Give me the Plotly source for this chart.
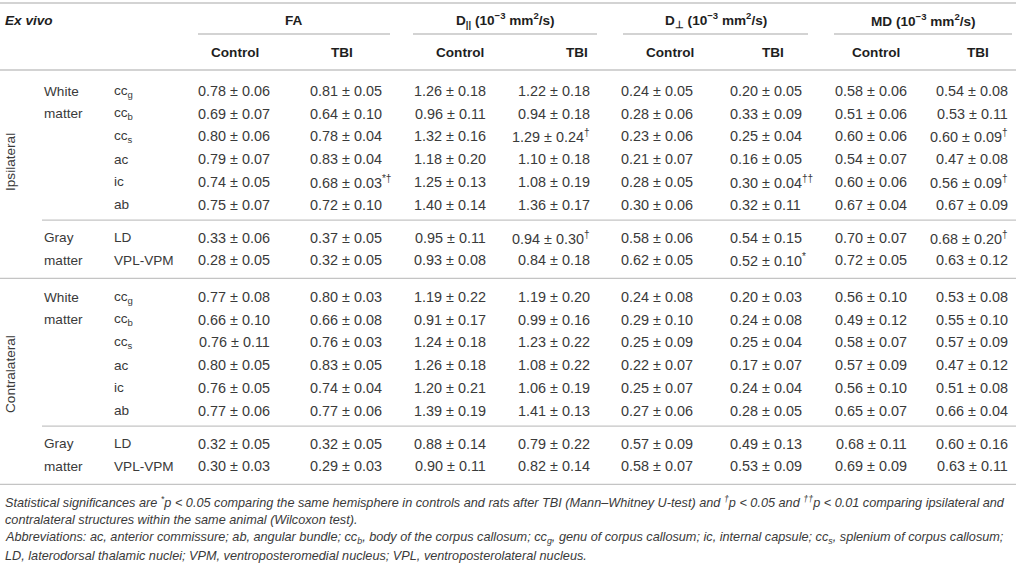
import plotly.graph_objects as go

# ---------------- data ----------------
hemispheres = ["Ipsilateral", "Contralateral"]
tissue_words = [["White", "matter"], ["Gray", "matter"]]
tissue_rows = [6, 2]
structures = ["cc<sub>g</sub>", "cc<sub>b</sub>", "cc<sub>s</sub>", "ac", "ic", "ab", "LD", "VPL-VPM"]

group_headers = ["FA",
                 "D<sub>||</sub> (10<sup>−3</sup> mm<sup>2</sup>/s)",
                 "D<sub>⊥</sub> (10<sup>−3</sup> mm<sup>2</sup>/s)",
                 "MD (10<sup>−3</sup> mm<sup>2</sup>/s)"]
sub_headers = ["Control", "TBI"]

fa_ctrl_mean = [0.78, 0.69, 0.80, 0.79, 0.74, 0.75, 0.33, 0.28, 0.77, 0.66, 0.76, 0.80, 0.76, 0.77, 0.32, 0.30]
fa_ctrl_sd   = [0.06, 0.07, 0.06, 0.07, 0.05, 0.07, 0.06, 0.05, 0.08, 0.10, 0.11, 0.05, 0.05, 0.06, 0.05, 0.03]
fa_tbi_mean  = [0.81, 0.64, 0.78, 0.83, 0.68, 0.72, 0.37, 0.32, 0.80, 0.66, 0.76, 0.83, 0.74, 0.77, 0.32, 0.29]
fa_tbi_sd    = [0.05, 0.10, 0.04, 0.04, 0.03, 0.10, 0.05, 0.05, 0.03, 0.08, 0.03, 0.05, 0.04, 0.06, 0.05, 0.03]
fa_tbi_sig   = ["", "", "", "", "*†", "", "", "", "", "", "", "", "", "", "", ""]

dpar_ctrl_mean = [1.26, 0.96, 1.32, 1.18, 1.25, 1.40, 0.95, 0.93, 1.19, 0.91, 1.24, 1.26, 1.20, 1.39, 0.88, 0.90]
dpar_ctrl_sd   = [0.18, 0.11, 0.16, 0.20, 0.13, 0.14, 0.11, 0.08, 0.22, 0.17, 0.18, 0.18, 0.21, 0.19, 0.14, 0.11]
dpar_tbi_mean  = [1.22, 0.94, 1.29, 1.10, 1.08, 1.36, 0.94, 0.84, 1.19, 0.99, 1.23, 1.08, 1.06, 1.41, 0.79, 0.82]
dpar_tbi_sd    = [0.18, 0.18, 0.24, 0.18, 0.19, 0.17, 0.30, 0.18, 0.20, 0.16, 0.22, 0.22, 0.19, 0.13, 0.22, 0.14]
dpar_tbi_sig   = ["", "", "†", "", "", "", "†", "", "", "", "", "", "", "", "", ""]

dperp_ctrl_mean = [0.24, 0.28, 0.23, 0.21, 0.28, 0.30, 0.58, 0.62, 0.24, 0.29, 0.25, 0.22, 0.25, 0.27, 0.57, 0.58]
dperp_ctrl_sd   = [0.05, 0.06, 0.06, 0.07, 0.05, 0.06, 0.06, 0.05, 0.08, 0.10, 0.09, 0.07, 0.07, 0.06, 0.09, 0.07]
dperp_tbi_mean  = [0.20, 0.33, 0.25, 0.16, 0.30, 0.32, 0.54, 0.52, 0.20, 0.24, 0.25, 0.17, 0.24, 0.28, 0.49, 0.53]
dperp_tbi_sd    = [0.05, 0.09, 0.04, 0.05, 0.04, 0.11, 0.15, 0.10, 0.03, 0.08, 0.04, 0.07, 0.04, 0.05, 0.13, 0.09]
dperp_tbi_sig   = ["", "", "", "", "††", "", "", "*", "", "", "", "", "", "", "", ""]

md_ctrl_mean = [0.58, 0.51, 0.60, 0.54, 0.60, 0.67, 0.70, 0.72, 0.56, 0.49, 0.58, 0.57, 0.56, 0.65, 0.68, 0.69]
md_ctrl_sd   = [0.06, 0.06, 0.06, 0.07, 0.06, 0.04, 0.07, 0.05, 0.10, 0.12, 0.07, 0.09, 0.10, 0.07, 0.11, 0.09]
md_tbi_mean  = [0.54, 0.53, 0.60, 0.47, 0.56, 0.67, 0.68, 0.63, 0.53, 0.55, 0.57, 0.47, 0.51, 0.66, 0.60, 0.63]
md_tbi_sd    = [0.08, 0.11, 0.09, 0.08, 0.09, 0.09, 0.20, 0.12, 0.08, 0.10, 0.09, 0.12, 0.08, 0.04, 0.16, 0.11]
md_tbi_sig   = ["", "", "†", "", "†", "", "†", "", "", "", "", "", "", "", "", ""]

no_sig = [""] * 16

footnotes = [
    "Statistical significances are <sup>*</sup>p < 0.05 comparing the same hemisphere in controls and rats after TBI "
    "(Mann–Whitney U-test) and <sup>†</sup>p < 0.05 and <sup>††</sup>p < 0.01 comparing ipsilateral and",
    "contralateral structures within the same animal (Wilcoxon test).",
    "Abbreviations: ac, anterior commissure; ab, angular bundle; cc<sub>b</sub>, body of the corpus callosum; "
    "cc<sub>g</sub>, genu of corpus callosum; ic, internal capsule; cc<sub>s</sub>, splenium of corpus callosum;",
    "LD, laterodorsal thalamic nuclei; VPM, ventroposteromedial nucleus; VPL, ventroposterolateral nucleus.",
]

columns = [
    (fa_ctrl_mean, fa_ctrl_sd, no_sig), (fa_tbi_mean, fa_tbi_sd, fa_tbi_sig),
    (dpar_ctrl_mean, dpar_ctrl_sd, no_sig), (dpar_tbi_mean, dpar_tbi_sd, dpar_tbi_sig),
    (dperp_ctrl_mean, dperp_ctrl_sd, no_sig), (dperp_tbi_mean, dperp_tbi_sd, dperp_tbi_sig),
    (md_ctrl_mean, md_ctrl_sd, no_sig), (md_tbi_mean, md_tbi_sd, md_tbi_sig),
]

# ---------------- layout / style ----------------
W, H = 1016, 564
FONT = "Liberation Sans, Arial, Helvetica, sans-serif"
TXT = "#3a3a3a"
HDR = "#1e1e1e"
LINE = "#c4c4c4"
FS = 13.6
FS_NUM = 14.4
FS_FOOT = 12.7

col_anchor = [("center", 234), ("left", 308), ("center", 450), ("right", 592),
              ("center", 657), ("left", 728), ("center", 871), ("right", 1010)]
sub_x = [235, 342, 460, 577, 670, 773, 876, 978]
group_span = [(198, 390), (413, 597), (623, 808), (834, 1012)]

ROW_PITCH = 22.7
hemi_first_row = [91, 297]
tissue_gap = 10.5
hemi_label_y = [162, 374]
FOOT_Y0 = 502
FOOT_PITCH = 17.9

annotations = []
shapes = []


def txt(x, y, s, anchor="left", size=FS, color=TXT, angle=0):
    annotations.append(dict(x=x, y=y, xref="x", yref="y", text=s, showarrow=False,
                            xanchor=anchor, yanchor="middle", textangle=angle,
                            font=dict(family=FONT, size=size, color=color)))


def hline(x0, x1, y, width=1.3):
    shapes.append(dict(type="line", xref="x", yref="y", x0=x0, x1=x1, y0=y, y1=y,
                       line=dict(color=LINE, width=width)))


# header
hline(0, W, 3)
txt(3, 20, "<b><i>Ex vivo</i></b>", color=HDR)
for (x0, x1), g in zip(group_span, group_headers):
    txt((x0 + x1) / 2, 20, "<b>" + g + "</b>", anchor="center", color=HDR)
    hline(x0, x1, 34)
for i, x in enumerate(sub_x):
    txt(x, 52, "<b>" + sub_headers[i % 2] + "</b>", anchor="center", color=HDR)
hline(0, W, 70)

# body
r = 0
last_y = 0
for h, hemi in enumerate(hemispheres):
    y = hemi_first_row[h]
    txt(10, hemi_label_y[h], hemi, anchor="center", angle=-90)
    for t, n in enumerate(tissue_rows):
        if t > 0:
            hline(42, W, last_y + (y - last_y) / 2 - 1)
        for k in range(n):
            if k < 2:
                txt(42, y, tissue_words[t][k])
            txt(112, y, structures[r % 8])
            for c, (m, s, sig) in enumerate(columns):
                label = f"{m[r]:.2f} ± {s[r]:.2f}"
                if sig[r]:
                    label += "<sup>" + sig[r] + "</sup>"
                a, x = col_anchor[c]
                txt(x, y, label, anchor=a, size=FS_NUM)
            last_y = y
            y += ROW_PITCH
            r += 1
        y += tissue_gap
    hline(0, W, last_y + 18)

# footnotes
for i, f in enumerate(footnotes):
    txt(3, FOOT_Y0 + i * FOOT_PITCH, "<i>" + f + "</i>", size=FS_FOOT)

fig = go.Figure()
fig.update_layout(
    width=W, height=H,
    margin=dict(l=0, r=0, t=0, b=0),
    paper_bgcolor="white", plot_bgcolor="white",
    xaxis=dict(range=[0, W], visible=False, fixedrange=True),
    yaxis=dict(range=[H, 0], visible=False, fixedrange=True),
    annotations=annotations, shapes=shapes,
    showlegend=False,
)
fig.write_html(
    "out.html",
    config={"displayModeBar": False},
    post_script="document.body.style.margin='0';document.body.style.overflow='hidden';",
)
